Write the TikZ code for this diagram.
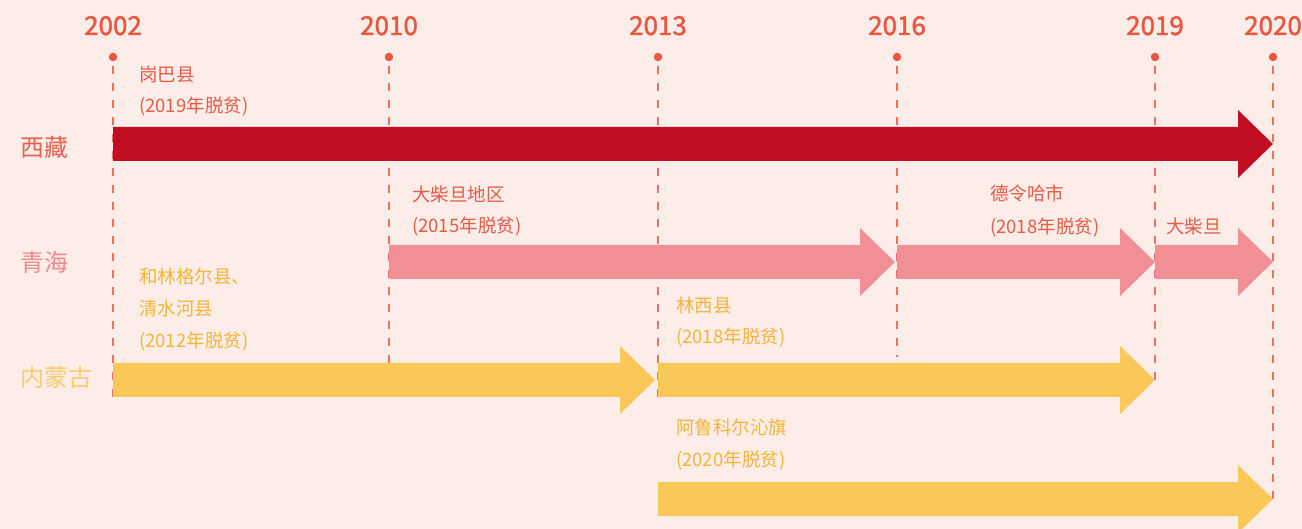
\documentclass[tikz,border=0pt]{standalone}
\usepackage{fontspec}
\setmainfont{Noto Sans CJK SC}
\newfontfamily\yearfont[FakeBold=1.6]{Noto Sans CJK SC}
\begin{document}
\definecolor{bgc}{HTML}{FCEDE8}
\definecolor{yearc}{HTML}{E9573F}
\definecolor{dashc}{HTML}{EF7062}
\definecolor{arrred}{HTML}{C20E22}
\definecolor{arrpink}{HTML}{F08F95}
\definecolor{arryel}{HTML}{FAC858}
\definecolor{lblred}{HTML}{EA5A46}
\definecolor{lblyel}{HTML}{F6B43A}
\definecolor{rowred}{HTML}{E8604E}
\definecolor{rowpink}{HTML}{EF8A8D}
\definecolor{rowyel}{HTML}{FBCB70}
\newcommand{\fatarrow}[4]{%
  \fill[#1] (#2,#4-17) -- (#3-35,#4-17) -- (#3-35,#4-34) -- (#3,#4)
    -- (#3-35,#4+34) -- (#3-35,#4+17) -- (#2,#4+17) -- cycle;}
\begin{tikzpicture}[x=1pt,y=-1pt,
  yearlbl/.style={font=\fontsize{26}{26}\yearfont, text=yearc, inner sep=0pt,
    text height=19pt, text depth=0pt},
  dotstyle/.style={circle, fill=yearc, inner sep=0pt, minimum size=8.5pt},
  tick/.style={draw=dashc, line width=1.4pt, dash pattern=on 8pt off 9pt},
  rowlbl/.style={font=\fontsize{24}{24}\selectfont, anchor=west, inner sep=0pt,
    text height=20pt, text depth=2pt},
  small/.style={font=\fontsize{18.5}{18.5}\selectfont, anchor=west, inner sep=0pt,
    text height=15.5pt, text depth=1.5pt},
  redlbl/.style={small, text=lblred},
  yellbl/.style={small, text=lblyel}]
\fill[bgc] (0,0) rectangle (1302,529);
\useasboundingbox (0,0) rectangle (1302,529);
% years
\foreach \yr/\xx/\yend in {2002/113/397, 2010/389/397, 2013/658/397, 2016/897/357, 2019/1155/386, 2020/1273/500}{
  \node[yearlbl] (y\yr) at (\xx,25.5) {\yr};
  \node[dotstyle] (d\yr) at (\xx,57) {};
  \coordinate (e\yr) at (\xx,\yend);
  \draw[tick] (\xx,66) -- (e\yr);
}
% arrows
\fatarrow{arrred}{113}{1273}{144}
\fatarrow{arrpink}{389}{895}{262}
\fatarrow{arrpink}{897}{1155}{262}
\fatarrow{arrpink}{1155}{1273}{262}
\fatarrow{arryel}{113}{655}{380}
\fatarrow{arryel}{658}{1155}{380}
\fatarrow{arryel}{658}{1273}{499}
% row labels
\node[rowlbl, text=rowred] (xz) at (20,148) {西藏};
\node[rowlbl, text=rowpink] (qh) at (20,263) {青海};
\node[rowlbl, text=rowyel] (nmg) at (20,378) {内蒙古};
% labels
\node[redlbl] (l1a) at (139,75) {岗巴县};
\node[redlbl] (l1b) at (139,106) {(2019年脱贫)};
\node[redlbl] (l2a) at (412,195) {大柴旦地区};
\node[redlbl] (l2b) at (412,226) {(2015年脱贫)};
\node[redlbl] (l3a) at (990,194) {德令哈市};
\node[redlbl] (l3b) at (990,227) {(2018年脱贫)};
\node[redlbl] (l4a) at (1166,227) {大柴旦};
\node[yellbl] (l5a) at (139,277) {和林格尔县、};
\node[yellbl] (l5b) at (139,309) {清水河县};
\node[yellbl] (l5c) at (139,341) {(2012年脱贫)};
\node[yellbl] (l6a) at (676,306) {林西县};
\node[yellbl] (l6b) at (676,337) {(2018年脱贫)};
\node[yellbl] (l7a) at (676,427) {阿鲁科尔沁旗};
\node[yellbl] (l7b) at (676,459) {(2020年脱贫)};
\end{tikzpicture}
\end{document}
